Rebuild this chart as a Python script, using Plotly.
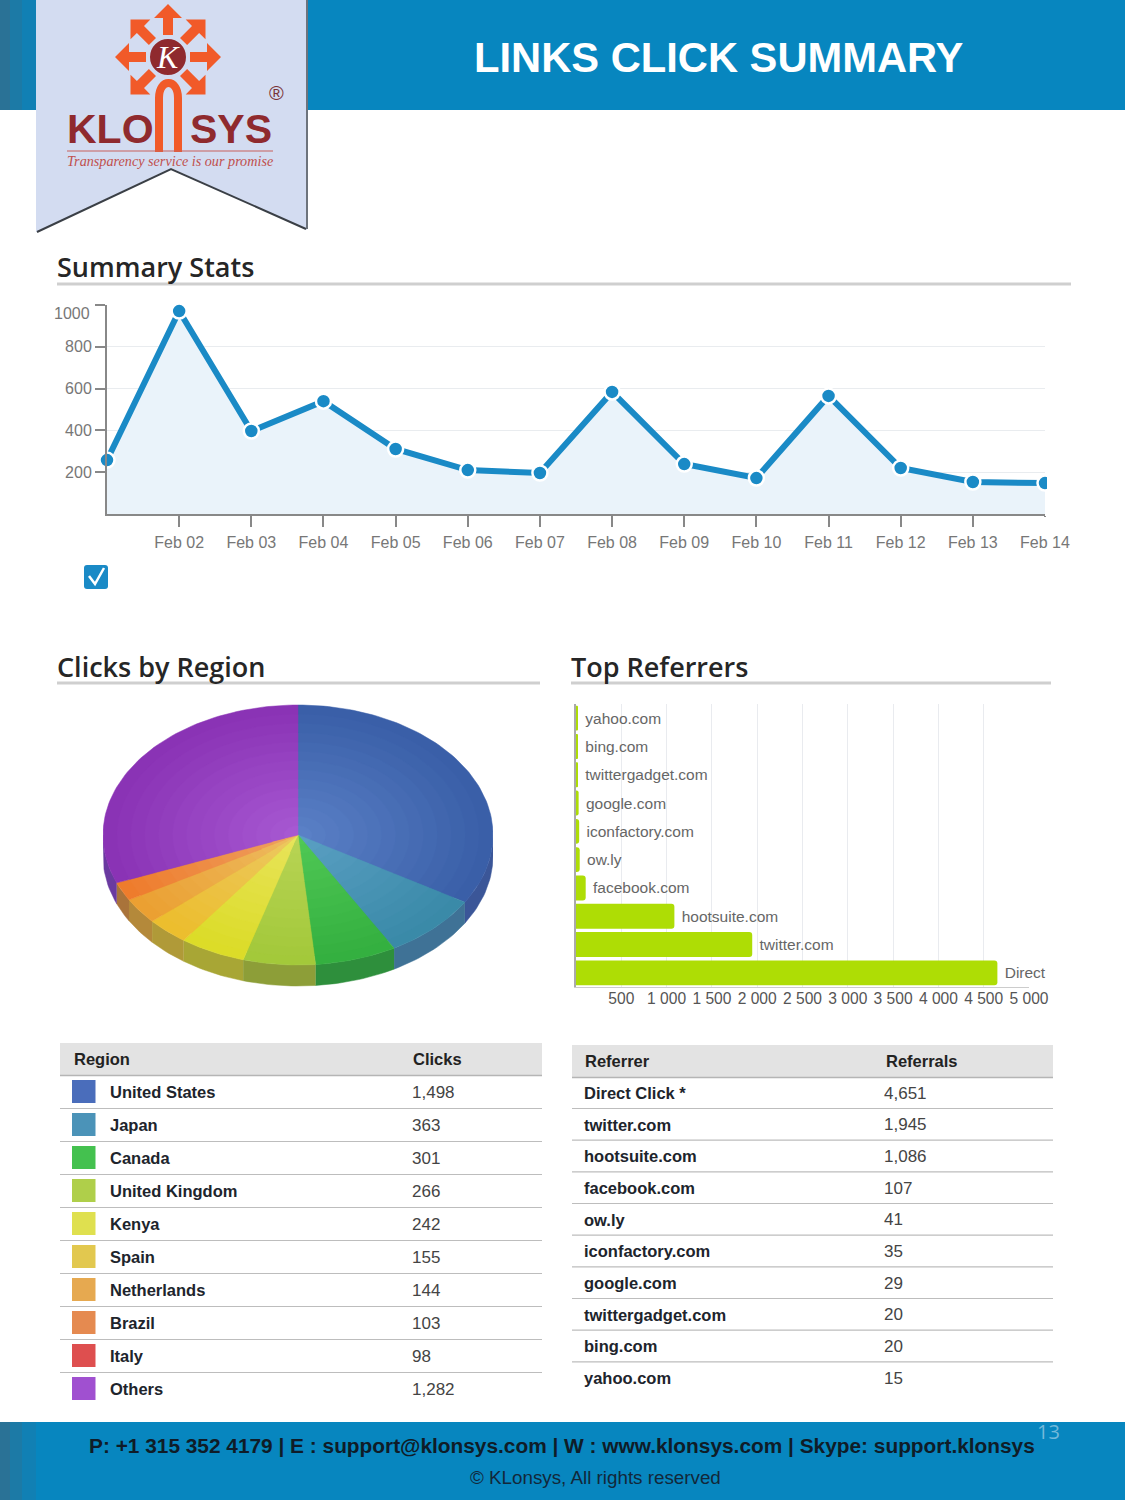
import math

import plotly.graph_objects as go

W = 1125
H = 1500

# summary stats line
days = ['Feb 01', 'Feb 02', 'Feb 03', 'Feb 04', 'Feb 05', 'Feb 06', 'Feb 07',
        'Feb 08', 'Feb 09', 'Feb 10', 'Feb 11', 'Feb 12', 'Feb 13', 'Feb 14']
day_clicks = [258, 971, 397, 540, 311, 210, 196, 584, 239, 172, 565, 220, 153, 148]
y_ticks = [200, 400, 600, 800, 1000]
y_tick_text = ['200', '400', '600', '800', '']

# region table
regions = ['United States', 'Japan', 'Canada', 'United Kingdom', 'Kenya',
           'Spain', 'Netherlands', 'Brazil', 'Italy', 'Others']
region_clicks = ['1,498', '363', '301', '266', '242', '155', '144', '103', '98', '1,282']
region_colors = ['#4a6dbb', '#4b93b8', '#44c14f', '#afcf4a', '#dfe04f',
                 '#e2c84f', '#e6a950', '#e58a50', '#de4f4f', '#a050d0']

# pie as it shows in the picture: no separate red slice, Italy sits inside the purple
pie_labels = ['United States', 'Japan', 'Canada', 'United Kingdom', 'Kenya',
              'Spain', 'Netherlands', 'Brazil', 'Others']
pie_values = [1498, 363, 301, 266, 242, 155, 144, 103, 1380]
pie_edge = ['#3a5fa8', '#3a8aa8', '#34b040', '#a3c93a', '#dcdc28', '#ecbe2e', '#eba032', '#ee7c2c', '#8a33b5']
pie_mid = ['#5a80c6', '#5a9fc2', '#50c855', '#b8d455', '#e8e45a', '#ecc860', '#eebb60', '#eea060', '#a758d2']
pie_rim = ['#3b5698', '#3f7296', '#2e8f3c', '#8d9e38', '#a8a635', '#b09a38', '#b4893a', '#a9733a', '#6a3aa0']

# referrers
bar_labels = ['yahoo.com', 'bing.com', 'twittergadget.com', 'google.com', 'iconfactory.com',
              'ow.ly', 'facebook.com', 'hootsuite.com', 'twitter.com', 'Direct']
bar_values = [15, 20, 20, 29, 35, 41, 107, 1086, 1945, 4651]
bar_ticks = [500, 1000, 1500, 2000, 2500, 3000, 3500, 4000, 4500, 5000]
bar_tick_text = ['500', '1 000', '1 500', '2 000', '2 500', '3 000', '3 500', '4 000', '4 500', '5 000']

referrers = ['Direct Click *', 'twitter.com', 'hootsuite.com', 'facebook.com', 'ow.ly',
             'iconfactory.com', 'google.com', 'twittergadget.com', 'bing.com', 'yahoo.com']
referrals = ['4,651', '1,945', '1,086', '107', '41', '35', '29', '20', '20', '15']

FONT = 'Liberation Sans'
BLUE = '#0786bf'


def dom_x(a, b):
    return [a / W, b / W]


def dom_y(top, bottom):
    return [1 - bottom / H, 1 - top / H]


def mix(a, b, t):
    ca = [int(a[i:i + 2], 16) for i in (1, 3, 5)]
    cb = [int(b[i:i + 2], 16) for i in (1, 3, 5)]
    return 'rgb(%d,%d,%d)' % tuple(ca[i] + (cb[i] - ca[i]) * t for i in range(3))


fig = go.Figure()
shapes = []
notes = []


def rect(x0, y0, x1, y1, color):
    shapes.append(dict(type='rect', xref='x', yref='y', x0=x0, y0=y0, x1=x1, y1=y1,
                       fillcolor=color, line_width=0))


def hline(x0, x1, y, color, width=1.5):
    shapes.append(dict(type='line', xref='x', yref='y', x0=x0, y0=y, x1=x1, y1=y,
                       line=dict(color=color, width=width)))


def path(d, fill=None, color=None, width=0):
    shapes.append(dict(type='path', xref='x', yref='y', path=d, fillcolor=fill,
                       line=dict(color=color, width=width)))


def text(x, y, s, size, color='#222', bold=False, anchor='left', family=FONT, **kw):
    font = dict(family=family, size=size, color=color, weight=700 if bold else 400)
    font.update(kw.pop('font_extra', {}))
    # annotations carry about 2 px of padding
    if anchor == 'left':
        x = x - 2
    notes.append(dict(xref='x', yref='y', x=x, y=y, text=s, showarrow=False,
                      xanchor=anchor, yanchor='middle', font=font, **kw))


# page axis in pixels, for everything around the charts
fig.add_trace(go.Scatter(x=[None], y=[None], xaxis='x', yaxis='y', showlegend=False))

# header and footer bands
rect(0, 0, W, 110, BLUE)
rect(0, 1422, W, H, BLUE)
for x0, x1, c in [(0, 10, '#2a7296'), (10, 22, '#1c7aa6'), (22, 36, '#1180b4')]:
    rect(x0, 0, x1, 110, c)
    rect(x0, 1422, x1, H, c)
text(719, 57, 'LINKS CLICK SUMMARY', 41.7, color='white', bold=True, anchor='center')

# banner
path('M36,0 L307,0 L307,230 L171,168 L36,232 Z', fill='#d3dcf1')
path('M37,232 L171,169 L306,229', color='#3a3f46', width=2)
path('M307,0 L307,229', color='#6d737c', width=2)

# logo arrows
cx, cy = 168, 57
arrow = [(0, 53), (14, 39), (5, 39), (5, 22), (-5, 22), (-5, 39), (-14, 39)]
for deg in [0, 45, 90, 135, 225, 270, 315]:
    a = math.radians(deg)
    pts = [(cx + u * math.cos(a) + v * math.sin(a), cy - v * math.cos(a) + u * math.sin(a)) for u, v in arrow]
    path('M' + ' L'.join('%.1f,%.1f' % p for p in pts) + ' Z', fill='#f15a29')
shapes.append(dict(type='circle', xref='x', yref='y', x0=cx - 19, y0=cy - 19, x1=cx + 19, y1=cy + 19,
                   fillcolor='#8f2a2e', line=dict(color='#d3dcf1', width=2)))
text(cx, cy, 'K', 32, color='white', anchor='center', family='Liberation Serif',
     font_extra=dict(style='italic'))
path('M159,152 L159,98 C159,78 178,78 178,98 L178,152', color='#f15a29', width=8)
text(67, 129, 'KLO', 41, color='#8f2a2e', bold=True)
text(190, 129, 'SYS', 41, color='#8f2a2e', bold=True)
text(276, 93, '®', 20, color='#7a3338', anchor='center')
hline(67, 273, 151, '#c8605c', 1)
text(170, 161, 'Transparency service is our promise', 14.2, color='#c0504d', anchor='center',
     family='Liberation Serif', font_extra=dict(style='italic'))

# section headings
for x, y, s, x1, ly in [(57, 266, 'Summary Stats', 1071, 284), (57, 666, 'Clicks by Region', 540, 683),
                        (571, 666, 'Top Referrers', 1051, 683)]:
    text(x, y, s, 27, color='#262626', family='Open Sans', font_extra=dict(weight=600))
    hline(x, x1, ly, '#cfcfcf', 3)

# line chart
fig.add_trace(go.Scatter(
    x=days, y=day_clicks, xaxis='x2', yaxis='y2', mode='lines+markers', fill='tozeroy',
    fillcolor='#eaf3fa', line=dict(color='#1a8ac6', width=6),
    marker=dict(size=15, color='#1a8ac6', line=dict(color='white', width=2.5)),
    cliponaxis=False, showlegend=False,
))
# last point is cut off at the plot edge and Feb 14 has no tick mark
rect(1047, 470, 1057, 496, 'white')
rect(1040, 517, 1052, 528, 'white')
text(92, 313, '1000', 16, color='#777', anchor='right')

# checkbox
path('M87,565 L105,565 Q108,565 108,568 L108,586 Q108,589 105,589 L87,589 Q84,589 84,586 L84,568 Q84,565 87,565 Z',
     fill='#1a8ac6')
path('M89,576 L95,584 L104,568', color='white', width=2.5)

# pie top ellipse: centre 298,835, rx 195, ry 130, rim 21 px
depth = 21 / 130
total = sum(pie_values)
starts = [sum(pie_values[:i]) / total * 360 for i in range(len(pie_values))]
ends = [sum(pie_values[:i + 1]) / total * 360 for i in range(len(pie_values))]


def arc(a, b, r=1.0, dy=0.0):
    n = max(2, int(abs(b - a) / 1.5) + 2)
    deg = [a + (b - a) * i / (n - 1) for i in range(n)]
    return ([r * math.sin(math.radians(d)) for d in deg],
            [r * math.cos(math.radians(d)) - dy for d in deg])


for i in range(len(pie_values)):
    a, b = max(starts[i], 90), min(ends[i], 270)
    if b <= a:
        continue
    xs, ys = arc(a, b)
    xs2, ys2 = arc(b, a, dy=depth)
    fig.add_trace(go.Scatter(x=xs + xs2, y=ys + ys2, xaxis='x3', yaxis='y3', mode='lines',
                             fill='toself', fillcolor=pie_rim[i], line=dict(color=pie_rim[i], width=0.5),
                             name=pie_labels[i], showlegend=False, hoverinfo='skip'))
rings = 14
for k in range(rings):
    r = 1 - k / rings
    t = k / (rings - 1)
    for i in range(len(pie_values)):
        c = mix(pie_edge[i], pie_mid[i], t)
        xs, ys = arc(starts[i], ends[i], r=r)
        fig.add_trace(go.Scatter(x=[0] + xs + [0], y=[0] + ys + [0], xaxis='x3', yaxis='y3', mode='lines',
                                 fill='toself', fillcolor=c, line=dict(color=c, width=0.5),
                                 name=pie_labels[i], showlegend=False, hoverinfo='skip'))

# bars
fig.add_trace(go.Bar(
    y=bar_labels, x=bar_values, orientation='h', xaxis='x4', yaxis='y4',
    marker=dict(color='#aedd05', line_width=0, cornerradius=3),
    text=['\u00a0' + s for s in bar_labels], textposition='outside', textangle=0, constraintext='none',
    cliponaxis=False, textfont=dict(family=FONT, size=15.5, color='#666'), showlegend=False,
))

# tables
rect(60, 1043, 542, 1075, '#e3e3e3')
hline(60, 542, 1075.5, '#b5b5b5', 1.5)
text(74, 1059, 'Region', 16.5, color='#222', bold=True)
text(413, 1059, 'Clicks', 16.5, color='#222', bold=True)
for i in range(len(regions)):
    yc = 1092 + 33 * i
    rect(72, yc - 12, 95.5, yc + 11, region_colors[i])
    text(110, yc, regions[i], 16.5, color='#20242c', bold=True)
    text(412, yc, region_clicks[i], 17, color='#444')
    if i < len(regions) - 1:
        hline(60, 542, yc + 16.5, '#bdbdbd', 1.2)

rect(572, 1045, 1053, 1077, '#e3e3e3')
hline(572, 1053, 1077.5, '#b5b5b5', 1.5)
text(585, 1061, 'Referrer', 16.5, color='#222', bold=True)
text(886, 1061, 'Referrals', 16.5, color='#222', bold=True)
for i in range(len(referrers)):
    yc = 1093 + 31.67 * i
    text(584, yc, referrers[i], 16.5, color='#20242c', bold=True)
    text(884, yc, referrals[i], 17, color='#444')
    if i < len(referrers) - 1:
        hline(572, 1053, yc + 15.5, '#bdbdbd', 1.2)

# footer
text(562, 1445, 'P: +1 315 352 4179 | E : support@klonsys.com | W : www.klonsys.com | Skype: support.klonsys',
     20.85, color='#0f1c28', bold=True, anchor='center')
text(595, 1477, '© KLonsys, All rights reserved', 18.8, color='#12283a', anchor='center')
text(1048, 1431, '13', 20, color='#74b9da', anchor='center', family='Open Sans')

tick_font = dict(family=FONT, size=16, color='#777')
fig.update_layout(
    template='none',
    width=W, height=H, margin=dict(l=0, r=0, t=0, b=0), autosize=False,
    paper_bgcolor='white', plot_bgcolor='rgba(0,0,0,0)', showlegend=False,
    shapes=shapes, annotations=notes,
    xaxis=dict(domain=[0, 1], range=[0, W], visible=False, fixedrange=True),
    yaxis=dict(domain=[0, 1], range=[H, 0], visible=False, fixedrange=True),
    xaxis2=dict(domain=dom_x(107, 1045), anchor='y2', type='category', categoryorder='array',
                categoryarray=days, range=[0, 13], tickmode='array', tickvals=days[1:], ticktext=days[1:],
                ticks='outside', ticklen=11, tickcolor='#888', tickwidth=1.5, showgrid=False, showline=True,
                linecolor='#888', linewidth=2, tickfont=tick_font, ticklabelstandoff=2, zeroline=False),
    yaxis2=dict(domain=dom_y(305, 514), anchor='x2', range=[0, 1000], tickmode='array', tickvals=y_ticks,
                ticktext=y_tick_text, ticks='outside', ticklen=10, tickcolor='#888', tickwidth=1.5, showgrid=True,
                gridcolor='#e9ecef', showline=True, linecolor='#888', linewidth=2, tickfont=tick_font,
                zeroline=False),
    xaxis3=dict(domain=dom_x(103, 493), anchor='y3', range=[-1, 1], visible=False, fixedrange=True),
    yaxis3=dict(domain=dom_y(700, 990), anchor='x3', range=[(835 - 990) / 130, (835 - 700) / 130],
                visible=False, fixedrange=True),
    xaxis4=dict(domain=dom_x(576, 1029), anchor='y4', range=[0, 5000], tickmode='array', tickvals=bar_ticks,
                ticktext=bar_tick_text, showgrid=True, gridcolor='#e9ebef', gridwidth=1.2, showline=True,
                linecolor='#cccccc', ticks='', tickfont=dict(family=FONT, size=15.6, color='#555'),
                ticklabelstandoff=-3, zeroline=False),
    yaxis4=dict(domain=dom_y(704, 987), anchor='x4', type='category', categoryorder='array',
                categoryarray=bar_labels[::-1], showticklabels=False, ticks='', showgrid=False,
                showline=True, linecolor='#aaaaaa', linewidth=1.5, zeroline=False),
    bargap=0.12,
)

fig.write_html("out.html", config=dict(displayModeBar=False), post_script="document.body.style.margin='0';")
